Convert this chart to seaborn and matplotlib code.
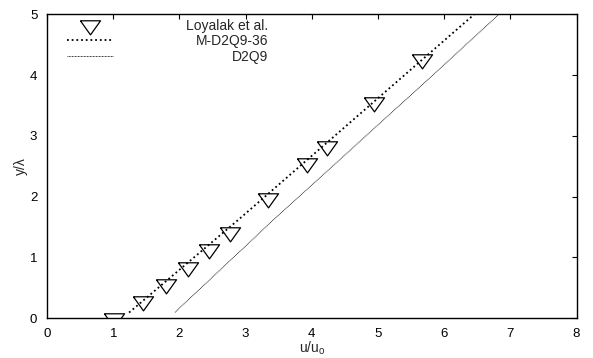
import matplotlib
matplotlib.use("Agg")
import matplotlib.pyplot as plt
import matplotlib.transforms as mtransforms
import pandas as pd
import seaborn as sns

# Loyalak et al. (reference points)
loyalak_u = [1.01, 1.455, 1.805, 2.13, 2.45, 2.757, 3.346, 3.935, 4.225, 4.94, 5.66]
loyalak_y = [0.0, 0.28, 0.555, 0.845, 1.137, 1.41, 1.98, 2.55, 2.83, 3.55, 4.26]

# M-D2Q9-36 profile
md_u = [1.24, 2.915, 6.455]
md_y = [0.09, 1.64, 5.0]

# D2Q9 profile
d2q9_u = [1.934, 3.444, 5.585, 6.83]
d2q9_y = [0.094, 1.64, 3.756, 5.0]

x_ticks = [0, 1, 2, 3, 4, 5, 6, 7, 8]
y_ticks = [0, 1, 2, 3, 4, 5]

sns.set_style("white")
plt.rcParams["font.family"] = ["Liberation Sans", "DejaVu Sans"]
plt.rcParams["mathtext.fontset"] = "custom"
plt.rcParams["mathtext.rm"] = "Liberation Sans"
plt.rcParams["font.size"] = 9

dfPts = pd.DataFrame({"u": loyalak_u, "y": loyalak_y})
dfMD = pd.DataFrame({"u": md_u, "y": md_y})
dfD = pd.DataFrame({"u": d2q9_u, "y": d2q9_y})

fig = plt.figure(figsize=(5.93, 3.58), dpi=100)
ax = fig.add_axes([0.0793, 0.1117, 0.8929, 0.8483])

# inverted triangle, centroid at the data point
tri = [(-1, 0.467), (1, 0.467), (0, -0.933), (-1, 0.467)]

sns.lineplot(data=dfPts, x="u", y="y", ax=ax, sort=False, estimator=None,
             marker=tri, markersize=14.5, linestyle="none",
             markerfacecolor="none", markeredgecolor="black",
             markeredgewidth=0.9, color="black", label="Loyalak et al.")
sns.lineplot(data=dfMD, x="u", y="y", ax=ax, sort=False, estimator=None,
             color="black", linewidth=1.3, linestyle=(0, (1, 1.6)),
             label="M-D2Q9-36")
sns.lineplot(data=dfD, x="u", y="y", ax=ax, sort=False, estimator=None,
             color="black", linewidth=0.6, linestyle=(0, (1, 0.8)),
             label="D2Q9")

ax.set_xlim(0, 8)
ax.set_ylim(0, 5)
ax.set_xticks(x_ticks)
ax.set_yticks(y_ticks)
ax.tick_params(direction="in", length=3.5, width=0.8, top=True, right=True,
               labelsize=9.5, pad=7, colors="black")
for s in ax.spines.values():
    s.set_linewidth(1.0)
    s.set_color("black")

ax.set_xlabel("u/u$_\\mathrm{o}$", fontsize=10, labelpad=0)
ax.set_ylabel("y/λ", fontsize=10, labelpad=1)

leg = ax.legend(loc="upper left", bbox_to_anchor=(0.038, 0.985), frameon=False,
                handlelength=3.3, handletextpad=5.25, labelspacing=0.1,
                borderaxespad=0, borderpad=0, fontsize=10)

# gnuplot-style key: labels right aligned
fig.canvas.draw()
renderer = fig.canvas.get_renderer()
texts = leg.get_texts()
widths = [t.get_window_extent(renderer).width for t in texts]
for t, w in zip(texts, widths):
    t.set_transform(t.get_transform() + mtransforms.Affine2D().translate(max(widths) - w, 0))

fig.savefig("out.png", dpi=100)
